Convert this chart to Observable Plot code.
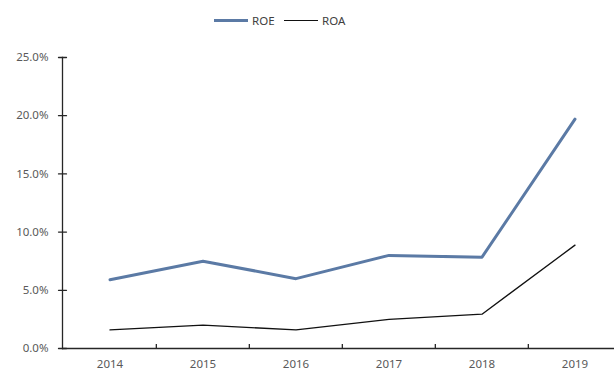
<!DOCTYPE html>
<html>
<head>
<meta charset="utf-8">
<script src="https://cdn.jsdelivr.net/npm/d3@7"></script>
<script src="https://cdn.jsdelivr.net/npm/@observablehq/plot@0.6"></script>
<style>
  html, body { margin: 0; padding: 0; background: #fff; }
  body { width: 614px; height: 371px; overflow: hidden; font-family: "Noto Sans", sans-serif; }
  #legend { position: relative; height: 40px; font-size: 11.5px; color: #404040; }
  .item { position: absolute; top: 12px; display: flex; align-items: center; height: 16px; }
  .sw { display: inline-block; width: 34px; margin-right: 4px; }
</style>
</head>
<body>
<div id="legend"></div>
<div id="chart"></div>
<script>
const years = ["2014", "2015", "2016", "2017", "2018", "2019"];
const roe = [0.059, 0.075, 0.060, 0.080, 0.0785, 0.197];
const roa = [0.016, 0.020, 0.016, 0.025, 0.0295, 0.0888];
const yTicks = [0, 0.05, 0.10, 0.15, 0.20, 0.25];
const seriesNames = ["ROE", "ROA"];
const seriesColors = ["#5b7aa5", "#111111"];
const seriesWidths = [3, 1.3];

const legend = document.getElementById("legend");
const legendX = [214, 284];
seriesNames.forEach((name, i) => {
  const it = document.createElement("div");
  it.className = "item";
  it.style.left = legendX[i] + "px";
  const sw = document.createElement("span");
  sw.className = "sw";
  sw.style.borderTop = `${seriesWidths[i]}px solid ${seriesColors[i]}`;
  it.appendChild(sw);
  const t = document.createElement("span");
  t.textContent = name;
  it.appendChild(t);
  legend.appendChild(it);
});

const rows = years.map((y, i) => ({year: y, roe: roe[i], roa: roa[i]}));
const bw = 560 / years.length;
const axisColor = "#262626";
const H = 331, MT = 17, MB = 23;

const chart = Plot.plot({
  width: 614,
  height: H,
  marginLeft: 62,
  marginRight: 0,
  marginTop: MT,
  marginBottom: MB,
  style: {fontFamily: "Noto Sans, sans-serif", fontSize: "11.5px", color: "#595959"},
  x: {type: "band", domain: years, range: [62, 622], padding: 0},
  y: {domain: [0, 0.25]},
  marks: [
    Plot.axisY({ticks: yTicks, tickFormat: d3.format(".1%"), tickSize: 0, tickPadding: 14, label: null, fill: "#595959"}),
    Plot.axisX({tickSize: 0, tickPadding: 11, label: null, fill: "#595959"}),
    Plot.frame({anchor: "left", stroke: axisColor, strokeWidth: 1.3}),
    Plot.vector(yTicks, {y: d => d, frameAnchor: "left", rotate: 90, length: 8, anchor: "middle", stroke: axisColor, strokeWidth: 1.3, shape: "spike", r: 0}),
    Plot.ruleX(years.slice(1), {x: d => d, dx: -bw / 2, insetTop: H - MT - MB - 4, stroke: axisColor, strokeWidth: 1.3}),
    Plot.ruleY([0], {stroke: axisColor, strokeWidth: 1.5}),
    Plot.lineY(rows, {x: "year", y: "roa", stroke: seriesColors[1], strokeWidth: seriesWidths[1]}),
    Plot.lineY(rows, {x: "year", y: "roe", stroke: seriesColors[0], strokeWidth: seriesWidths[0]})
  ]
});
document.getElementById("chart").appendChild(chart);
</script>
</body>
</html>
